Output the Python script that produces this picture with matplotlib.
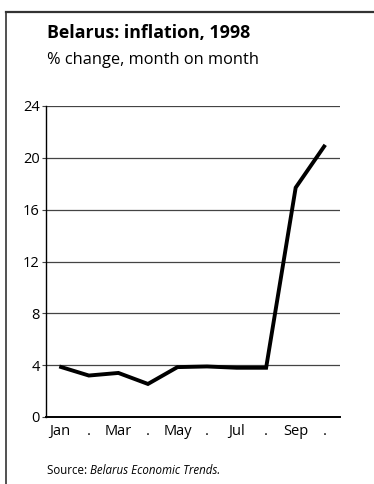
import matplotlib
matplotlib.use("Agg")
import matplotlib.pyplot as plt
from matplotlib.lines import Line2D
import numpy as np

plt.rcParams['font.family'] = ['Open Sans', 'DejaVu Sans']

months = ['Jan', '.', 'Mar', '.', 'May', '.', 'Jul', '.', 'Sep', '.']
inflation = [3.9, 3.2, 3.4, 2.55, 3.85, 3.9, 3.8, 3.8, 17.7, 21.0]
yticks = [0, 4, 8, 12, 16, 20, 24]

W, H = 374, 484
fig = plt.figure(figsize=(W / 100, H / 100), dpi=100)

# axes placement in pixels: left 46, right 340, top 106, bottom 417
ax = fig.add_axes([46 / W, 1 - 417 / H, (340 - 46) / W, (417 - 106) / H])

x = np.arange(len(months))
ax.plot(x, inflation, color='black', lw=2.8, solid_joinstyle='miter', solid_capstyle='butt', zorder=3)

ax.set_xlim(-0.45, 9.5)
ax.set_ylim(0, 24)
ax.set_yticks(yticks)
ax.set_yticklabels([str(v) for v in yticks], fontsize=10.5)
ax.set_xticks(x)
ax.set_xticklabels(months, fontsize=10.5)
ax.tick_params(axis='x', length=0, pad=5)
ax.tick_params(axis='y', length=3, width=0.8, pad=1.5, color='#444444')

for v in yticks[1:]:
    ax.axhline(v, color='#444444', lw=0.9, zorder=1)

for s in ['top', 'right']:
    ax.spines[s].set_visible(False)
ax.spines['left'].set_linewidth(1.0)
ax.spines['bottom'].set_linewidth(1.4)

fig.text(47 / W, 1 - 33 / H, 'Belarus: inflation, 1998', fontsize=12.8,
         fontweight='bold', va='center', ha='left')
fig.text(47 / W, 1 - 60 / H, '% change, month on month', fontsize=11.8,
         va='center', ha='left')
src = fig.text(47 / W, 1 - 471 / H, 'Source: ', fontsize=8.3, va='center', ha='left')
fig.canvas.draw()
bb = src.get_window_extent()
fig.text(bb.x1 / W, 1 - 471 / H, 'Belarus Economic Trends.', fontsize=8.3,
         style='italic', va='center', ha='left')

# frame: top and left border
fig.add_artist(Line2D([6 / W, 1], [1 - 12 / H, 1 - 12 / H], color='#333333', lw=1.6))
fig.add_artist(Line2D([6 / W, 6 / W], [0, 1 - 12 / H], color='#333333', lw=1.2))

fig.savefig('out.png', dpi=100)
